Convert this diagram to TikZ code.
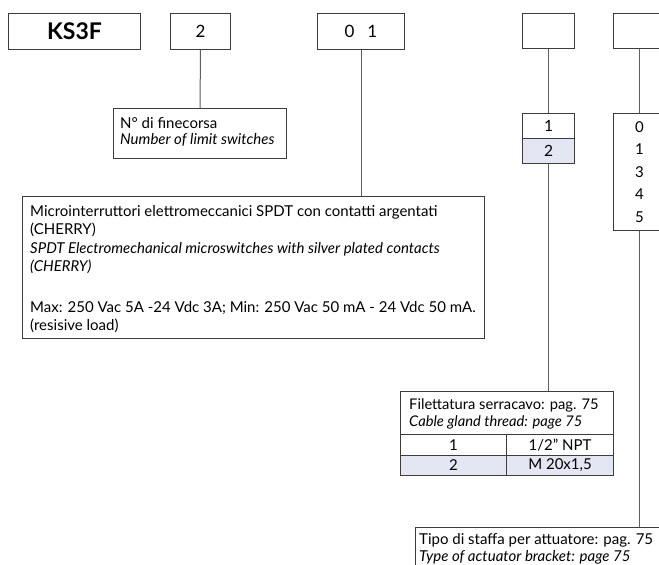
\documentclass[tikz,border=0pt]{standalone}
\usepackage{fontspec}
\setmainfont{Lato}
\definecolor{selrow}{HTML}{E4E6F4}
\definecolor{edgegray}{HTML}{3C3C3C}
\definecolor{wiregray}{HTML}{5E5E5E}
\begin{document}
\begin{tikzpicture}[x=1pt,y=-1pt,
		box/.style={draw=edgegray,line width=1pt,inner sep=0pt,anchor=north west,
			font=\fontsize{15}{15}\selectfont},
		wire/.style={draw=wiregray,line width=1pt},
		txt/.style={anchor=north west,inner sep=0pt,align=left}]
	\useasboundingbox (0,0) rectangle (659,565);
	\clip (0,0) rectangle (659,565);
	\node[box,minimum width=132pt,minimum height=36pt,
		font=\bfseries\fontsize{23}{23}\selectfont] (ks3f) at (8,13) {KS3F};
	\node[box,minimum width=60pt,minimum height=36pt,
		font=\fontsize{17}{17}\selectfont] (cnt) at (170,13) {2};
	\node[box,minimum width=87pt,minimum height=36pt,
		font=\fontsize{17}{17}\selectfont] (sw) at (317,13) {0\hspace{13pt}1};
	\node[box,minimum width=52pt,minimum height=35pt] (cg) at (522,13) {};
	\node[box,minimum width=52pt,minimum height=35pt] (br) at (613,13) {};
	\node[box,minimum width=173pt,minimum height=50pt] (nlim) at (113,108) {};
	\node[txt,font=\fontsize{15}{16}\selectfont] (nlimtxt) at (120,117.5)
		{N° di finecorsa\\\textit{Number of limit switches}};
	\node[box,minimum width=462pt,minimum height=142pt] (micro) at (22,196) {};
	\node[txt,font=\fontsize{15}{18.5}\selectfont] (microtxt) at (30,205)
		{Microinterruttori elettromeccanici SPDT con contatti argentati\\
		(CHERRY)\\
		\textit{SPDT Electromechanical microswitches with silver plated contacts}\\
		\textit{(CHERRY)}\\[22pt]
		Max: 250 Vac 5A -24 Vdc 3A; Min: 250 Vac 50 mA - 24 Vdc 50 mA.\\
		(resisive load)};
	\node[box,minimum width=52pt,minimum height=25pt,
		font=\fontsize{15.5}{15.5}\selectfont] (cgone) at (522,113) {1};
	\node[box,minimum width=52pt,minimum height=25pt,fill=selrow,
		font=\fontsize{15.5}{15.5}\selectfont] (cgtwo) at (522,138) {2};
	\node[box,minimum width=52pt,minimum height=117pt,align=center,
		font=\fontsize{15}{22.5}\selectfont] (brsel) at (613,113) {0\\1\\3\\4\\5};
	\node[box,minimum width=213pt,minimum height=43pt] (thread) at (400,391) {};
	\node[txt,font=\fontsize{14.7}{17}\selectfont] (threadtxt) at (409,398)
		{Filettatura serracavo: pag. 75\\\textit{Cable gland thread: page 75}};
	\node[box,minimum width=106pt,minimum height=21pt] (throne) at (400,434) {1};
	\node[box,minimum width=107pt,minimum height=21pt] (npt) at (506,434) {1/2” NPT};
	\node[box,minimum width=106pt,minimum height=20pt,fill=selrow] (thrtwo) at (400,455) {2};
	\node[box,minimum width=107pt,minimum height=20pt,fill=selrow] (metric) at (506,455) {M 20x1,5};
	\node[box,minimum width=260pt,minimum height=60pt] (bracket) at (415,527) {};
	\node[txt,font=\fontsize{15}{16.5}\selectfont] (brackettxt) at (419,533.5)
		{Tipo di staffa per attuatore: pag. 75\\\textit{Type of actuator bracket: page 75}};
	\draw[wire] (cnt.south) -- (nlim.north);
	\draw[wire] (sw.south) -- (sw.south |- micro.north);
	\draw[wire] (cg.south) -- (cgone.north);
	\draw[wire] (cgtwo.south) -- (cgtwo.south |- thread.north);
	\draw[wire] (br.south) -- (brsel.north);
	\draw[wire] (brsel.south) -- (brsel.south |- bracket.north);
\end{tikzpicture}
\end{document}
